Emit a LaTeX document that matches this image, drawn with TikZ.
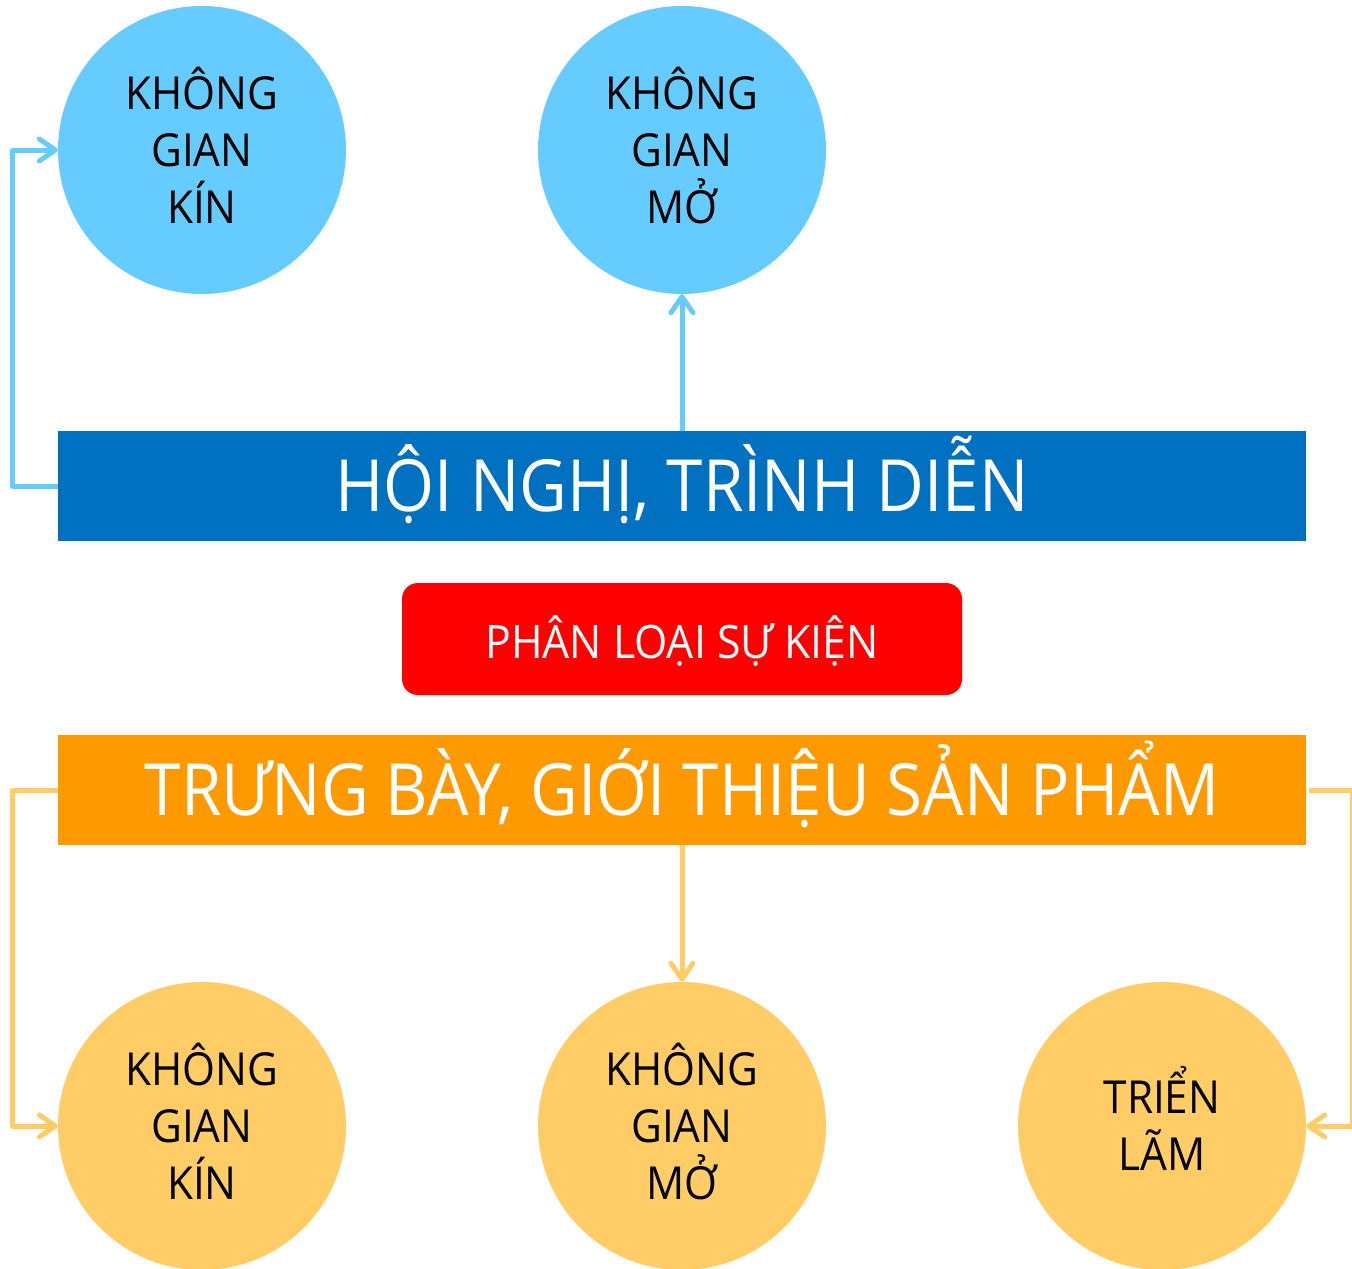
\documentclass[tikz,border=0pt]{standalone}
\usepackage{fontspec}
\setmainfont[FakeStretch=0.93]{Open Sans}
\newfontfamily\barfont[FakeStretch=0.91]{Open Sans}
\usetikzlibrary{arrows.meta}
\definecolor{lblue}{HTML}{66CCFF}
\definecolor{dblue}{HTML}{0070C0}
\definecolor{lorange}{HTML}{FFCC66}
\definecolor{dorange}{HTML}{FF9900}
\definecolor{pred}{HTML}{FF0000}
\begin{document}
\begin{tikzpicture}[x=1pt,y=-1pt,
  circ/.style={circle, minimum size=288pt, inner sep=0pt, align=center,
    font=\fontsize{45.5}{57}\selectfont, text=black, text depth=10pt},
  bar/.style={rectangle, minimum width=1248pt, minimum height=110pt, inner sep=0pt,
    text=white, font=\barfont\fontsize{72}{72}\selectfont, text height=51.4pt, text depth=0pt},
  conn/.style={line width=5pt, line join=round,
    -{Straight Barb[round,length=16pt,width=22pt]}},
]
\useasboundingbox (0,0) rectangle (1352,1269);
\node[circ, fill=lblue] (c1) at (202,150) {KHÔNG\\GIAN\\KÍN};
\node[circ, fill=lblue] (c2) at (682,150) {KHÔNG\\GIAN\\MỞ};
\node[bar, fill=dblue] (b1) at (682,486) {HỘI NGHỊ, TRÌNH DIỄN};
\node[rectangle, rounded corners=16pt, fill=pred, minimum width=560pt, minimum height=112pt,
  inner sep=0pt, text=white, font=\fontsize{46}{46}\selectfont, text height=38pt, text depth=0pt] (r) at (682,639) {PHÂN LOẠI SỰ KIỆN};
\node[bar, fill=dorange] (b2) at (682,790) {TRƯNG BÀY, GIỚI THIỆU SẢN PHẨM};
\node[circ, fill=lorange] (d1) at (202,1126) {KHÔNG\\GIAN\\KÍN};
\node[circ, fill=lorange] (d2) at (682,1126) {KHÔNG\\GIAN\\MỞ};
\node[circ, fill=lorange, text depth=16pt] (d3) at (1162,1126) {TRIỂN\\LÃM};
\draw[conn, lblue] (b1.west) -- ++(-45,0) |- (c1.west);
\draw[conn, lblue] (b1.north) -- (c2.south);
\draw[conn, lorange] (b2.west) -- ++(-45,0) |- (d1.west);
\draw[conn, lorange] (b2.south) -- (d2.north);
\draw[conn, lorange] ([xshift=3pt]b2.east) -- ++(43,0) |- (d3.east);
\end{tikzpicture}
\end{document}
